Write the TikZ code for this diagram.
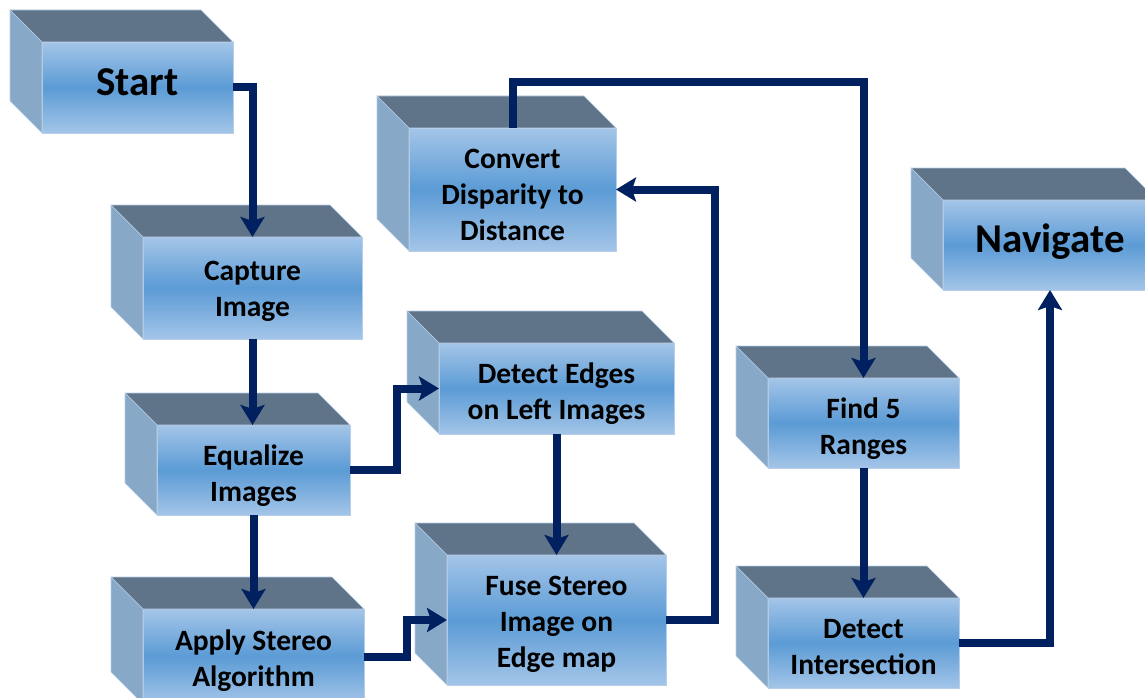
\documentclass[tikz,border=0pt]{standalone}
\usepackage{fontspec}
\setmainfont{Carlito}
\usetikzlibrary{arrows.meta}

\definecolor{topface}{HTML}{5F7489}
\definecolor{sideface}{HTML}{88A8C8}
\definecolor{frontlight}{HTML}{A4C5E8}
\definecolor{frontdark}{HTML}{5B9BD5}
\definecolor{edgeline}{HTML}{B6CEE7}
\definecolor{navy}{HTML}{002060}

\tikzset{
  front/.style={draw=edgeline, line width=0.8pt, outer sep=0pt, inner sep=0pt,
    top color=frontlight, bottom color=frontlight, middle color=frontdark},
  steptext/.style={inner sep=0pt, align=center, text=black,
    font=\bfseries\fontsize{29.5}{36}\selectfont},
  bigtext/.style={font=\bfseries\fontsize{41}{48}\selectfont},
  topside/.style={fill=topface, draw=edgeline, line width=0.6pt, line join=round},
  leftside/.style={fill=sideface, draw=edgeline, line width=0.6pt, line join=round},
  conn/.style={draw=navy, line width=8pt, line join=miter,
    -{Stealth[length=20pt,width=24pt,inset=4pt]}}
}

% #1 name, #2 #3 front top-left, #4 #5 front bottom-right,
% #6 text style, #7 vertical text offset, #8 text
\newcommand\cubebox[8]{%
  \node[front, minimum width={#4pt-#2pt}, minimum height={#5pt-#3pt}]
    (#1) at ({(#2+#4)/2},{(#3+#5)/2}) {};
  \node[steptext, #6] (#1-text) at ([yshift=#7pt]#1.center) {#8};
  \path[topside] (#1.north west) -- ++(-32,-32)
    -- ([shift={(-32,-32)}]#1.north east) -- (#1.north east) -- cycle;
  \path[leftside] (#1.north west) -- ++(-32,-32)
    -- ([shift={(-32,-32)}]#1.south west) -- (#1.south west) -- cycle;
}

\begin{document}
\begin{tikzpicture}[x=1pt, y=-1pt]
  \useasboundingbox (0,0) rectangle (1145,698);
  \fill[white] (0,0) rectangle (1145,698);
  \clip (0,0) rectangle (1145,698);

  % process steps
  \cubebox{start}{42}{42}{233}{133}{bigtext}{5}{Start}
  \cubebox{cap}{143}{237}{362}{339}{}{-3}{Capture\\Image}
  \cubebox{eq}{157}{425}{350}{515}{}{-6}{Equalize\\Images}
  \cubebox{apply}{143}{609}{364}{704}{}{-4.5}{Apply Stereo\\Algorithm}
  \cubebox{edges}{439}{343}{674}{434}{}{-5}{Detect Edges\\on Left Images}
  \cubebox{fuse}{447}{555}{666}{685}{}{-4}{Fuse Stereo\\Image on\\Edge map}
  \cubebox{conv}{409}{128}{616}{251}{}{-5}{Convert\\Disparity to\\Distance}
  \cubebox{find}{768}{378}{959}{468}{}{-6}{Find 5\\Ranges}
  \cubebox{det}{768}{598}{959}{688}{}{-4.5}{Detect\\Intersection}
  \cubebox{nav}{943}{200}{1157}{290}{bigtext}{3}{Navigate}

  % flow connectors
  \draw[conn] (start.east) -| (cap.north);
  \draw[conn] (cap.south) -- (cap.south |- eq.north);
  \draw[conn] (eq.south) -- (eq.south |- apply.north);
  \draw[conn] (eq.east) -- ++(47,0) |- (edges.west);
  \draw[conn] (edges.south) -- (edges.south |- fuse.north);
  \draw[conn] (apply.east) -- ++(43,0) |- (fuse.west);
  \draw[conn] (fuse.east) -- ++(49,0) |- (conv.east);
  \draw[conn] (conv.north) -- ++(0,-46) -| (find.north);
  \draw[conn] (find.south) -- (find.south |- det.north);
  \draw[conn] (det.east) -| (nav.south);
\end{tikzpicture}
\end{document}
